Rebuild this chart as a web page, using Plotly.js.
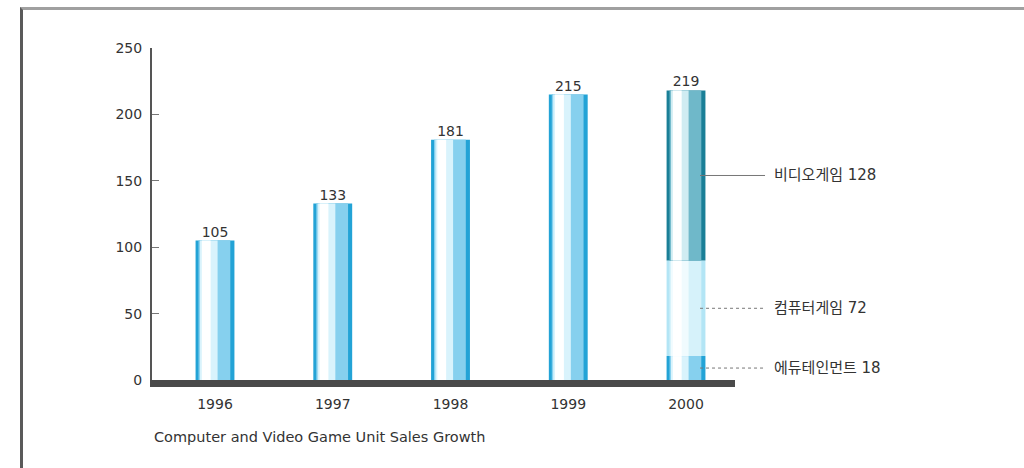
<!DOCTYPE html>
<html>
<head>
<meta charset="utf-8">
<script src="https://cdn.plot.ly/plotly-3.0.1.min.js"></script>
<style>
  html, body { margin: 0; padding: 0; background: #ffffff; }
  #wrap { position: relative; width: 1024px; height: 468px; overflow: hidden; }
  #frame { position: absolute; left: 20px; top: 7px; width: 1010px; height: 470px;
           border-top: 3px solid #a0a0a0; border-left: 3px solid #5a5a5a; box-sizing: border-box; }
  #chart { position: absolute; left: 0; top: 0; width: 1024px; height: 468px; }
</style>
</head>
<body>
<div id="wrap">
  <div id="frame"></div>
  <div id="chart"></div>
</div>
<script>
// ---- data ----
const years = ['1996', '1997', '1998', '1999', '2000'];
const totals = [105, 133, 181, 215, 219];
const segNames2000 = ['에듀테인먼트', '컴퓨터게임', '비디오게임'];
const segValues2000 = [18, 72, 128];
const yTickVals = [0, 50, 100, 150, 200, 250];
const captionText = 'Computer and Video Game Unit Sales Growth';

// ---- styling ----
const Y_MAX = 250;
const FONT = 'DejaVu Sans, Liberation Sans, sans-serif';
const KFONT = 'DejaVu Sans, Noto Sans CJK KR, sans-serif';

const paletteCyan  = ['#23a3d6', '#86d0ee', '#d9f3fc', '#ffffff'];
const paletteTeal  = ['#1a7f97', '#6fb8c9', '#d0ecf2', '#ffffff'];
const paletteLight = ['#b3e5f5', '#d6f2fa', '#f0fbfe', '#ffffff'];
const layers = [
  {offset: -0.165, width: 0.33},
  {offset: -0.140, width: 0.27},
  {offset: -0.128, width: 0.15},
  {offset: -0.112, width: 0.075}
];

function cylinder(xs, ys, bases, palette) {
  return layers.map((l, i) => ({
    type: 'bar', x: xs, y: ys, base: bases,
    offset: l.offset, width: l.width,
    marker: {color: palette[i], line: {width: 0}},
    hoverinfo: 'skip', showlegend: false
  }));
}

const traces = [];
// 1996-1999 single bars
const singleYears = years.slice(0, 4);
const singleVals = totals.slice(0, 4);
traces.push(...cylinder(singleYears, singleVals, singleVals.map(() => 0), paletteCyan));

// 2000 stacked segments
const segBases = [];
let acc = 0;
segValues2000.forEach(v => { segBases.push(acc); acc += v; });
const segPalettes = [paletteCyan, paletteLight, paletteTeal];
segValues2000.forEach((v, i) => {
  traces.push(...cylinder([years[4]], [v], [segBases[i]], segPalettes[i]));
});

// value labels on top
traces.push({
  type: 'scatter', mode: 'text', x: years, y: totals,
  text: totals.map(String), textposition: 'top center',
  textfont: {family: FONT, size: 14, color: '#333333'},
  hoverinfo: 'skip', showlegend: false, cliponaxis: false
});

// leader lines + segment labels for 2000
const shapes = [];
const annotations = [];
const dashes = ['dot', 'dot', 'solid'];
segValues2000.forEach((v, i) => {
  const mid = (segBases[i] + v / 2) / Y_MAX;
  shapes.push({type: 'line', xref: 'paper', yref: 'paper',
    x0: 0.940, x1: 1.0515, y0: mid, y1: mid,
    line: {color: '#777777', width: 1, dash: dashes[i]}});
  annotations.push({xref: 'paper', yref: 'paper', x: 1.064, y: mid,
    xanchor: 'left', yanchor: 'middle', showarrow: false,
    text: segNames2000[i] + ' ' + v,
    font: {family: KFONT, size: 15, color: '#333333'}});
});
annotations.push({xref: 'paper', yref: 'paper', x: 0, y: -0.172,
  xanchor: 'left', yanchor: 'middle', showarrow: false,
  text: captionText, font: {family: FONT, size: 14.5, color: '#333333'}});

const layout = {
  width: 1024, height: 468,
  margin: {l: 152, r: 289, t: 48, b: 88, pad: 0},
  paper_bgcolor: 'rgba(0,0,0,0)', plot_bgcolor: 'rgba(0,0,0,0)',
  barmode: 'overlay',
  font: {family: FONT, size: 14, color: '#333333'},
  xaxis: {type: 'category', range: [-0.535, 4.416], showgrid: false, zeroline: false,
    showline: true, linewidth: 7, linecolor: '#4a4a4a', ticks: '',
    ticklabelstandoff: 5,
    tickfont: {family: FONT, size: 14, color: '#333333'}, fixedrange: true},
  yaxis: {range: [0, Y_MAX], tickvals: yTickVals, showgrid: false, zeroline: false,
    showline: true, linewidth: 2, linecolor: '#555555',
    ticks: 'inside', ticklen: 7, tickwidth: 1, tickcolor: '#777777',
    ticklabelstandoff: 5,
    tickfont: {family: FONT, size: 14, color: '#333333'}, fixedrange: true},
  shapes: shapes,
  annotations: annotations
};

Plotly.newPlot('chart', traces, layout, {displayModeBar: false, staticPlot: true});
</script>
</body>
</html>
